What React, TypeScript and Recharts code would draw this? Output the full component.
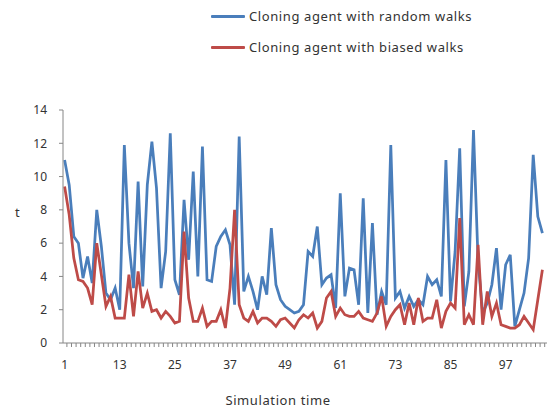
import { LineChart, Line, XAxis, YAxis } from "recharts";

// t per simulation step
const randomWalks = [
  11.0, 9.5, 6.4, 6.0, 3.9, 5.2, 3.6, 8.0, 5.8, 3.0,
  2.6, 3.3, 2.0, 11.9, 6.0, 3.3, 9.7, 3.4, 9.5, 12.1,
  9.3, 3.3, 5.5, 12.6, 3.8, 2.9, 8.6, 5.0, 10.3, 4.0,
  11.8, 3.8, 3.7, 5.8, 6.4, 6.8, 5.9, 2.3, 12.4, 3.1,
  4.0, 3.1, 2.0, 4.0, 2.9, 6.9, 3.5, 2.6, 2.2, 2.0,
  1.8, 1.9, 2.3, 5.5, 5.2, 7.0, 3.5, 3.9, 4.1, 2.1,
  9.0, 2.8, 4.5, 4.4, 2.3, 8.7, 1.8, 7.2, 1.7, 3.1,
  2.3, 11.9, 2.7, 3.1, 2.1, 2.8, 2.2, 2.6, 2.3, 4.0,
  3.5, 3.8, 2.8, 11.0, 2.5, 5.5, 11.7, 2.2, 4.3, 12.8,
  4.9, 1.8, 2.4, 3.5, 5.7, 2.0, 4.7, 5.3, 1.0, 2.0,
  3.0, 5.1, 11.3, 7.6, 6.6,
];

const biasedWalks = [
  9.4, 7.7, 5.1, 3.8, 3.7, 3.3, 2.3, 6.0, 4.1, 2.2,
  2.8, 1.5, 1.5, 1.5, 4.1, 1.6, 4.3, 2.1, 3.0, 1.9,
  2.0, 1.5, 1.9, 1.6, 1.2, 1.3, 6.7, 2.7, 1.3, 1.3,
  2.1, 1.0, 1.3, 1.3, 2.0, 0.9, 3.3, 8.0, 2.3, 1.5,
  1.3, 1.9, 1.2, 1.5, 1.5, 1.3, 1.0, 1.4, 1.5, 1.2,
  0.9, 1.4, 1.7, 1.5, 1.8, 0.9, 1.3, 2.7, 3.1, 1.6,
  2.1, 1.7, 1.6, 1.6, 1.9, 1.5, 1.4, 1.3, 1.8, 2.8,
  1.0, 1.6, 2.0, 2.3, 1.1, 2.4, 1.1, 2.7, 1.3, 1.5,
  1.5, 2.6, 0.9, 1.9, 2.4, 2.1, 7.5, 1.1, 1.7, 1.1,
  5.9, 1.1, 3.1, 1.6, 2.4, 1.1, 1.0, 0.9, 0.9, 1.1,
  1.6, 1.2, 0.8, 2.6, 4.4,
];

const xLabels = [1, 13, 25, 37, 49, 61, 73, 85, 97];
const yTicks = [0, 2, 4, 6, 8, 10, 12, 14];

const BLUE = "#4A7EBB";
const RED = "#BE4B48";
const AXIS = "#868686";
const TEXT = "#333";
const FONT = "'Noto Sans', sans-serif";

const data = randomWalks.map((v, i) => ({
  t: i + 1,
  random: v,
  biased: biasedWalks[i],
}));

// small marks sit between categories, like the spreadsheet axis
const markTicks = data.map((d) => d.t + 0.5);

// axis 0 = line + marks at the plot edge, axis 1 = the labels below it
const MARKS_AXIS = 0;
const LABEL_AXIS = 1;

function LegendRow({ color, label, top }: { color: string; label: string; top: number }) {
  return (
    <div style={{ position: "absolute", left: 211, top, display: "flex", alignItems: "center" }}>
      <div style={{ width: 34, height: 3, background: color, borderRadius: 1 }} />
      <span style={{ marginLeft: 4, fontSize: 13, letterSpacing: 0.6, color: TEXT, fontFamily: FONT }}>
        {label}
      </span>
    </div>
  );
}

export default function App() {
  return (
    <div
      style={{
        position: "fixed",
        left: 0,
        top: 0,
        width: 547,
        height: 408,
        overflow: "hidden",
        background: "#fff",
        fontFamily: FONT,
      }}
    >
      <LegendRow color={BLUE} label="Cloning agent with random walks" top={7} />
      <LegendRow color={RED} label="Cloning agent with biased walks" top={38} />

      <LineChart
        width={547}
        height={408}
        data={data}
        margin={{ top: 110, right: 0, bottom: 29, left: 13 }}
      >
        <XAxis
          xAxisId={MARKS_AXIS}
          type="number"
          dataKey="t"
          domain={[0.65, 106]}
          allowDataOverflow
          ticks={markTicks}
          interval={0}
          height={6}
          tickSize={4}
          tickFormatter={() => ""}
          stroke={AXIS}
          tickLine={{ stroke: AXIS }}
        />
        <XAxis
          xAxisId={LABEL_AXIS}
          type="number"
          dataKey="t"
          domain={[0.65, 106]}
          allowDataOverflow
          ticks={xLabels}
          interval={0}
          height={30}
          axisLine={false}
          tickLine={false}
          tickSize={0}
          tickMargin={11}
          tick={{ fontSize: 12, fill: TEXT, fontFamily: FONT }}
        />
        <YAxis
          domain={[0, 14]}
          ticks={yTicks}
          interval={0}
          width={50}
          tickSize={4}
          tickMargin={12}
          stroke={AXIS}
          tick={{ fontSize: 12, fill: TEXT, fontFamily: FONT }}
        />
        <Line
          xAxisId={LABEL_AXIS}
          type="linear"
          dataKey="random"
          stroke={BLUE}
          strokeWidth={2.75}
          dot={false}
          isAnimationActive={false}
        />
        <Line
          xAxisId={LABEL_AXIS}
          type="linear"
          dataKey="biased"
          stroke={RED}
          strokeWidth={2.75}
          dot={false}
          isAnimationActive={false}
        />
      </LineChart>

      <div style={{ position: "absolute", left: 15, top: 203, fontSize: 13, color: TEXT }}>t</div>
      <div
        style={{
          position: "absolute",
          left: 0,
          width: 556,
          top: 391,
          textAlign: "center",
          fontSize: 13,
          letterSpacing: 0.6,
          color: TEXT,
        }}
      >
        Simulation time
      </div>
    </div>
  );
}
